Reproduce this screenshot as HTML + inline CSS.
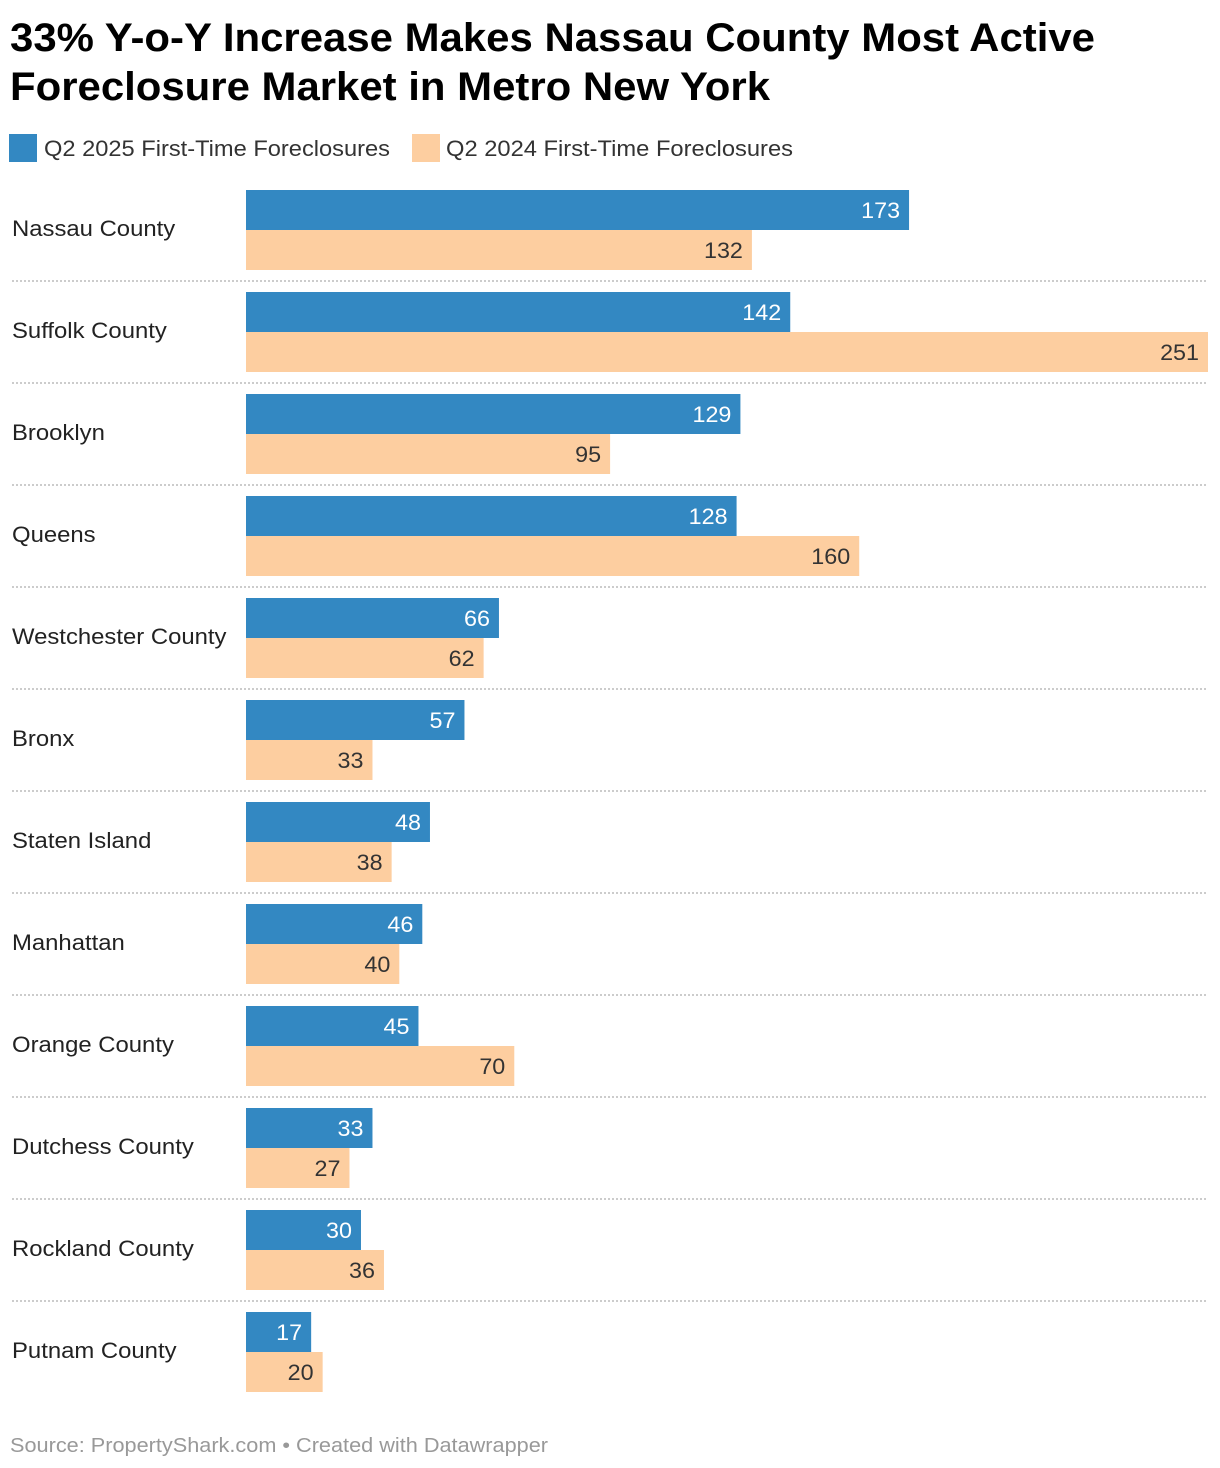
<!DOCTYPE html>
<html><head><meta charset="utf-8"><style>
body{margin:0;background:#fff;}
svg{display:block;font-family:"Liberation Sans",sans-serif;}
</style></head><body>
<svg id="chart" width="1220" height="1468" xmlns="http://www.w3.org/2000/svg">
<text x="10" y="51" font-size="40" font-weight="bold" fill="#000" textLength="1085" lengthAdjust="spacingAndGlyphs">33% Y-o-Y Increase Makes Nassau County Most Active</text>
<text x="10" y="100" font-size="40" font-weight="bold" fill="#000" textLength="760" lengthAdjust="spacingAndGlyphs">Foreclosure Market in Metro New York</text>
<rect x="9" y="134" width="28" height="28" fill="#3388c2"/>
<text x="44" y="156" font-size="22" fill="#333" textLength="346" lengthAdjust="spacingAndGlyphs">Q2 2025 First-Time Foreclosures</text>
<rect x="412" y="134" width="28" height="28" fill="#fdcea0"/>
<text x="446" y="156" font-size="22" fill="#333" textLength="347" lengthAdjust="spacingAndGlyphs">Q2 2024 First-Time Foreclosures</text>
<g id="rows"></g>
<text x="10" y="1452" font-size="20" fill="#999" textLength="538" lengthAdjust="spacingAndGlyphs">Source: PropertyShark.com • Created with Datawrapper</text>
</svg>
<script>
const categories=["Nassau County","Suffolk County","Brooklyn","Queens","Westchester County","Bronx","Staten Island","Manhattan","Orange County","Dutchess County","Rockland County","Putnam County"];
const values2025=[173,142,129,128,66,57,48,46,45,33,30,17];
const values2024=[132,251,95,160,62,33,38,40,70,27,36,20];
const maxValue=251;
const NS="http://www.w3.org/2000/svg";
const g=document.getElementById("rows");
const x0=246,x1=1208,top0=190,pitch=102,bh=40;
function xs(v){return (v/maxValue)*(x1-x0);}
function mk(t,a){const e=document.createElementNS(NS,t);for(const k in a)e.setAttribute(k,a[k]);g.appendChild(e);return e;}
function stretch(t,f){const w=t.getComputedTextLength();t.setAttribute("textLength",w*f);t.setAttribute("lengthAdjust","spacingAndGlyphs");}
categories.forEach((c,i)=>{
  const y=top0+i*pitch;
  const lab=mk("text",{x:12,y:y+46,"font-size":22,fill:"#222"});
  
  
  lab.textContent=c;
  stretch(lab,1.085);
  [[values2025[i],"#3388c2","#fff",y,"bar-2025"],[values2024[i],"#fdcea0","#333",y+bh,"bar-2024"]].forEach(([v,col,tc,by,nm])=>{
    const w=xs(v);
    const r=mk("rect",{x:x0,y:by,width:w,height:bh,fill:col});
    
    
    const t=mk("text",{x:x0+w-9,y:by+28,"font-size":22,fill:tc,"text-anchor":"end"});
    
    
    t.textContent=v;
    stretch(t,1.06);
  });
  if(i<categories.length-1){
    const l=mk("line",{x1:12,x2:1208,y1:y+91,y2:y+91,stroke:"#ccc","stroke-width":2,"stroke-dasharray":"2,2"});
    
    
  }
});
</script>
</body></html>
